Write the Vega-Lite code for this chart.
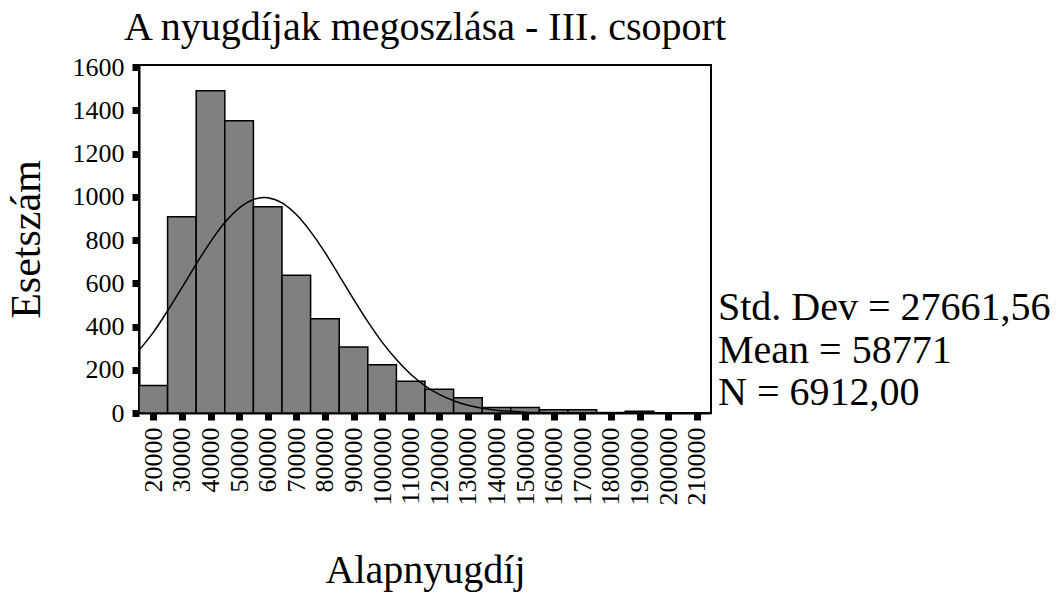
{
  "$schema": "https://vega.github.io/schema/vega-lite/v6.json",
  "autosize": {"type": "none"},
  "width": 572,
  "height": 348,
  "padding": {"left": 139, "top": 65, "right": 347, "bottom": 180},
  "background": "white",
  "title": {
    "text": "A nyugdíjak megoszlása - III. csoport",
    "font": "Liberation Serif",
    "fontSize": 40,
    "fontWeight": "normal",
    "color": "black",
    "anchor": "middle",
    "frame": "group",
    "baseline": "alphabetic",
    "offset": -26
  },
  "config": {
    "font": "Liberation Serif",
    "view": {"stroke": "black", "strokeWidth": 2},
    "axis": {
      "labelFont": "Liberation Serif",
      "titleFont": "Liberation Serif",
      "labelColor": "black",
      "titleColor": "black",
      "domainColor": "black",
      "domainWidth": 2,
      "tickColor": "black",
      "tickCap": "butt",
      "grid": false,
      "titleFontWeight": "normal",
      "labelFontSize": 26,
      "labelFlush": false,
      "labelOverlap": false,
      "tickSize": 7,
      "tickWidth": 7
    },
    "axisX": {"labelAngle": -90, "labelPadding": 7, "titleFontSize": 40, "titlePadding": 45},
    "axisY": {"labelPadding": 8, "titleFontSize": 42, "titlePadding": 24}
  },
  "datasets": {
    "bins": [
      {"start": 15000, "end": 25000, "count": 127},
      {"start": 25000, "end": 35000, "count": 908},
      {"start": 35000, "end": 45000, "count": 1491},
      {"start": 45000, "end": 55000, "count": 1352},
      {"start": 55000, "end": 65000, "count": 954},
      {"start": 65000, "end": 75000, "count": 637},
      {"start": 75000, "end": 85000, "count": 436},
      {"start": 85000, "end": 95000, "count": 305},
      {"start": 95000, "end": 105000, "count": 223},
      {"start": 105000, "end": 115000, "count": 147},
      {"start": 115000, "end": 125000, "count": 110},
      {"start": 125000, "end": 135000, "count": 71},
      {"start": 135000, "end": 145000, "count": 25},
      {"start": 145000, "end": 155000, "count": 25},
      {"start": 155000, "end": 165000, "count": 15},
      {"start": 165000, "end": 175000, "count": 15},
      {"start": 175000, "end": 185000, "count": 2},
      {"start": 185000, "end": 195000, "count": 8},
      {"start": 195000, "end": 205000, "count": 1},
      {"start": 205000, "end": 215000, "count": 1}
    ],
    "curve": [
      {"x": 15000, "y": 290},
      {"x": 20000, "y": 373},
      {"x": 25000, "y": 473},
      {"x": 30000, "y": 580},
      {"x": 35000, "y": 689},
      {"x": 40000, "y": 792},
      {"x": 45000, "y": 881},
      {"x": 50000, "y": 948},
      {"x": 55000, "y": 988},
      {"x": 58771, "y": 997},
      {"x": 60000, "y": 996},
      {"x": 65000, "y": 972},
      {"x": 70000, "y": 918},
      {"x": 75000, "y": 839},
      {"x": 80000, "y": 743},
      {"x": 85000, "y": 636},
      {"x": 90000, "y": 527},
      {"x": 95000, "y": 423},
      {"x": 100000, "y": 328},
      {"x": 105000, "y": 247},
      {"x": 110000, "y": 179},
      {"x": 115000, "y": 126},
      {"x": 120000, "y": 86},
      {"x": 125000, "y": 57},
      {"x": 130000, "y": 36},
      {"x": 135000, "y": 22},
      {"x": 140000, "y": 13},
      {"x": 145000, "y": 8},
      {"x": 150000, "y": 4},
      {"x": 155000, "y": 2},
      {"x": 160000, "y": 1},
      {"x": 170000, "y": 0},
      {"x": 190000, "y": 0},
      {"x": 215000, "y": 0}
    ],
    "stats": [
      {"lines": ["Std. Dev = 27661,56", "Mean = 58771", "N = 6912,00"]}
    ]
  },
  "layer": [
    {
      "data": {"name": "bins"},
      "mark": {"type": "rect", "fill": "#808080", "stroke": "black", "strokeWidth": 1.5},
      "encoding": {
        "x": {
          "field": "start",
          "type": "quantitative",
          "scale": {"domain": [15000, 215000], "nice": false, "zero": false},
          "axis": {
            "title": "Alapnyugdíj",
            "values": [20000, 30000, 40000, 50000, 60000, 70000, 80000, 90000, 100000, 110000, 120000, 130000, 140000, 150000, 160000, 170000, 180000, 190000, 200000, 210000],
            "format": "d"
          }
        },
        "x2": {"field": "end"},
        "y": {
          "field": "count",
          "type": "quantitative",
          "scale": {"domain": [0, 1610], "nice": false},
          "axis": {
            "title": "Esetszám",
            "values": [0, 200, 400, 600, 800, 1000, 1200, 1400, 1600],
            "format": "d"
          }
        },
        "y2": {"datum": 0}
      }
    },
    {
      "data": {"name": "curve"},
      "mark": {"type": "line", "color": "black", "strokeWidth": 1.5, "interpolate": "monotone"},
      "encoding": {
        "x": {
          "field": "x",
          "type": "quantitative",
          "axis": {
            "title": "Alapnyugdíj",
            "values": [20000, 30000, 40000, 50000, 60000, 70000, 80000, 90000, 100000, 110000, 120000, 130000, 140000, 150000, 160000, 170000, 180000, 190000, 200000, 210000],
            "format": "d"
          }
        },
        "y": {
          "field": "y",
          "type": "quantitative",
          "axis": {
            "title": "Esetszám",
            "values": [0, 200, 400, 600, 800, 1000, 1200, 1400, 1600],
            "format": "d"
          }
        }
      }
    },
    {
      "data": {"name": "stats"},
      "mark": {"type": "text", "align": "left", "baseline": "alphabetic", "dx": 7, "fontSize": 40, "lineHeight": 42.5, "color": "black", "font": "Liberation Serif", "clip": false},
      "encoding": {
        "x": {
          "datum": 215000,
          "type": "quantitative",
          "axis": {
            "title": "Alapnyugdíj",
            "values": [20000, 30000, 40000, 50000, 60000, 70000, 80000, 90000, 100000, 110000, 120000, 130000, 140000, 150000, 160000, 170000, 180000, 190000, 200000, 210000],
            "format": "d"
          }
        },
        "y": {
          "datum": 430,
          "type": "quantitative",
          "axis": {
            "title": "Esetszám",
            "values": [0, 200, 400, 600, 800, 1000, 1200, 1400, 1600],
            "format": "d"
          }
        },
        "text": {"field": "lines", "type": "nominal"}
      }
    }
  ]
}
